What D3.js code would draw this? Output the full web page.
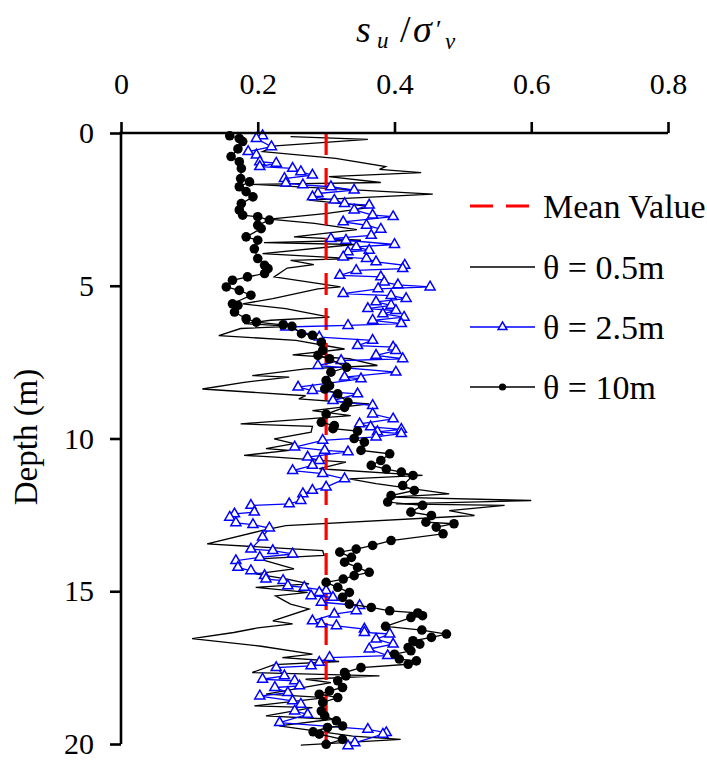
<!DOCTYPE html>
<html>
<head>
<meta charset="utf-8">
<script src="https://cdn.jsdelivr.net/npm/d3@7"></script>
<style>
	body { margin: 0; background: #fff; }
	svg text { font-family: "Liberation Serif", "Times New Roman", serif; fill: #000; }
</style>
</head>
<body>
<svg id="chart" width="707" height="764"></svg>
<script>
// theta = 0.5m (thin black line)
var depth05 = [0.12, 0.21, 0.42, 0.61, 0.83, 1.10, 1.19, 1.30, 1.43, 1.62, 1.68, 2.00, 2.20, 2.42, 2.63, 2.82, 2.96, 3.16,
	3.40, 3.51, 3.59, 3.65, 3.95, 4.11, 4.17, 4.31, 4.42, 4.71, 4.93, 5.04, 5.10, 5.42, 5.59, 5.75, 6.03, 6.13, 6.24, 6.33, 6.40,
	6.63, 6.79, 7.07, 7.26, 7.39, 7.61, 7.72, 7.94, 7.99, 8.16, 8.38, 8.60, 8.70, 8.87, 9.09, 9.25, 9.52, 9.60,
	9.79, 10.01, 10.17, 10.33, 10.39, 10.55, 10.61, 10.77, 10.99, 11.21, 11.32, 11.48, 11.81, 11.92, 12.03, 12.14, 12.19, 12.36, 12.52, 12.85,
	13.01, 13.45, 13.67, 13.83, 13.94, 14.27, 14.43, 14.60, 14.76, 14.87, 15.04, 15.15, 15.42, 15.58, 15.97, 16.07, 16.20, 16.35,
	16.55, 16.80, 17.06, 17.17, 17.30, 17.40, 17.66, 17.77, 17.88, 17.99, 18.37, 18.48, 18.75, 18.81, 19.08, 19.19, 19.41, 19.74, 19.85, 20.04];
var su05 = [0.248, 0.361, 0.226, 0.207, 0.314, 0.387, 0.378, 0.439, 0.304, 0.380, 0.192, 0.456, 0.275, 0.370, 0.302, 0.217, 0.283, 0.345,
	0.253, 0.351, 0.209, 0.341, 0.207, 0.339, 0.248, 0.282, 0.243, 0.224, 0.290, 0.321, 0.288, 0.222, 0.178, 0.241, 0.305, 0.219, 0.180, 0.251, 0.175,
	0.143, 0.256, 0.327, 0.251, 0.334, 0.375, 0.270, 0.192, 0.246, 0.180, 0.119, 0.270, 0.260, 0.363, 0.280, 0.336, 0.175, 0.280,
	0.278, 0.224, 0.253, 0.212, 0.246, 0.180, 0.226, 0.329, 0.290, 0.441, 0.334, 0.373, 0.480, 0.395, 0.600, 0.402, 0.561, 0.480, 0.517, 0.241,
	0.207, 0.126, 0.295, 0.297, 0.202, 0.253, 0.197, 0.243, 0.275, 0.197, 0.273, 0.226, 0.248, 0.275, 0.222, 0.251, 0.200, 0.165,
	0.104, 0.205, 0.280, 0.236, 0.319, 0.224, 0.192, 0.378, 0.270, 0.307, 0.212, 0.300, 0.195, 0.280, 0.212, 0.309, 0.231, 0.339, 0.409, 0.263];

// theta = 2.5m (blue triangles)
var depth25 = [0.09, 0.18, 0.45, 0.61, 0.72, 0.94, 0.99, 1.10, 1.16, 1.27, 1.38, 1.49, 1.64, 1.70, 1.76, 1.87, 1.98, 2.09, 2.20, 2.31, 2.36, 2.52, 2.69, 2.74, 2.91, 3.02, 3.15,
	3.35, 3.46, 3.51, 3.65, 3.73, 3.84, 3.89, 4.06, 4.11, 4.22, 4.33, 4.44, 4.50, 4.66, 4.71, 4.88, 4.97, 5.04, 5.10, 5.26, 5.32, 5.42, 5.53, 5.64, 5.75, 5.81, 5.92, 6.03, 6.13, 6.24, 6.30, 6.35,
	6.68, 6.79, 6.96, 7.01, 7.12, 7.28, 7.39, 7.45, 7.61, 7.83, 7.99, 8.05, 8.32, 8.43, 8.54, 8.76, 8.92, 9.20, 9.36, 9.52, 9.62, 9.70, 9.78, 9.84, 9.95,
	10.06, 10.28, 10.39, 10.44, 10.61, 10.72, 10.88, 11.05, 11.15, 11.32, 11.59, 11.70, 11.81, 12.03, 12.14, 12.19, 12.41, 12.47, 12.58, 12.76, 12.82, 12.93,
	13.23, 13.62, 13.67, 13.78, 13.89, 14.00, 14.22, 14.33, 14.49, 14.60, 14.65, 14.82, 14.87, 14.98, 15.04, 15.15, 15.20, 15.36, 15.47, 15.64, 15.75, 15.97, 16.07, 16.13, 16.24,
	16.35, 16.40, 16.57, 16.73, 16.89, 17.11, 17.17, 17.33, 17.44, 17.50, 17.77, 17.88, 17.93, 18.10, 18.15, 18.32, 18.43, 18.59, 18.70, 18.92, 19.03, 19.30, 19.52, 19.63, 19.68, 19.96, 20.06];
var su25 = [0.207, 0.198, 0.220, 0.186, 0.198, 0.203, 0.227, 0.203, 0.251, 0.263, 0.280, 0.239, 0.241, 0.266, 0.307, 0.341, 0.288, 0.280, 0.312, 0.327, 0.363, 0.341, 0.368, 0.398, 0.325, 0.359, 0.380,
	0.366, 0.307, 0.329, 0.400, 0.344, 0.363, 0.332, 0.325, 0.359, 0.373, 0.415, 0.412, 0.344, 0.320, 0.380, 0.385, 0.405, 0.452, 0.376, 0.325, 0.395, 0.417, 0.373, 0.395, 0.361, 0.402, 0.383, 0.414, 0.368, 0.410, 0.332, 0.241,
	0.290, 0.368, 0.346, 0.398, 0.402, 0.373, 0.412, 0.322, 0.288, 0.402, 0.327, 0.351, 0.259, 0.280, 0.346, 0.310, 0.368, 0.368, 0.398, 0.349, 0.365, 0.410, 0.375, 0.410, 0.373,
	0.295, 0.254, 0.298, 0.332, 0.273, 0.290, 0.280, 0.251, 0.295, 0.327, 0.300, 0.280, 0.266, 0.263, 0.246, 0.190, 0.195, 0.166, 0.159, 0.168, 0.193, 0.217,
	0.207, 0.190, 0.222, 0.251, 0.203, 0.168, 0.171, 0.190, 0.210, 0.212, 0.237, 0.244, 0.268, 0.300, 0.290, 0.278, 0.310, 0.293, 0.349, 0.344, 0.312, 0.280, 0.293, 0.315, 0.356,
	0.356, 0.393, 0.373, 0.398, 0.363, 0.390, 0.305, 0.290, 0.278, 0.227, 0.239, 0.207, 0.254, 0.261, 0.225, 0.244, 0.203, 0.251, 0.263, 0.254, 0.273, 0.232, 0.361, 0.388, 0.383, 0.342, 0.332];

// theta = 10m (black dots)
var depth10 = [0.09, 0.18, 0.28, 0.52, 0.77, 0.94, 1.16, 1.49, 1.60, 1.76, 1.92, 2.09, 2.31, 2.52, 2.69, 2.74, 2.85, 3.02,
	3.13, 3.40, 3.51, 3.79, 4.11, 4.33, 4.44, 4.60, 4.71, 4.82, 5.04, 5.15, 5.31, 5.59, 5.64, 5.86, 6.08, 6.19, 6.28, 6.33,
	6.57, 6.62, 6.85, 7.12, 7.28, 7.39, 7.67, 7.83, 8.10, 8.27, 8.38, 8.54, 8.81, 8.98, 9.20, 9.47, 9.58, 9.68, 9.76,
	10.00, 10.12, 10.39, 10.50, 10.72, 10.88, 11.00, 11.10, 11.21, 11.54, 11.70, 11.87, 12.08, 12.19, 12.41, 12.52, 12.74, 12.79, 12.90,
	13.12, 13.34, 13.50, 13.62, 13.72, 13.89, 14.05, 14.22, 14.38, 14.49, 14.60, 14.71, 14.87, 15.04, 15.20, 15.42, 15.53, 15.64, 15.71, 15.80, 15.86, 16.15,
	16.27, 16.40, 16.51, 16.62, 16.73, 16.84, 16.95, 17.06, 17.22, 17.28, 17.39, 17.50, 17.66, 17.77, 17.93, 18.15, 18.26, 18.37, 18.48, 18.64, 18.92,
	19.08, 19.24, 19.41, 19.46, 19.60, 19.68, 19.85, 20.01];
var su10 = [0.159, 0.173, 0.178, 0.171, 0.161, 0.173, 0.176, 0.175, 0.188, 0.173, 0.183, 0.193, 0.176, 0.173, 0.178, 0.200, 0.217, 0.200,
	0.205, 0.183, 0.200, 0.195, 0.200, 0.210, 0.215, 0.210, 0.185, 0.163, 0.154, 0.173, 0.190, 0.163, 0.171, 0.166, 0.183, 0.198, 0.237, 0.250,
	0.264, 0.280, 0.293, 0.295, 0.288, 0.305, 0.330, 0.307, 0.300, 0.305, 0.298, 0.317, 0.332, 0.327, 0.300, 0.293, 0.312, 0.310, 0.346,
	0.341, 0.356, 0.351, 0.393, 0.380, 0.366, 0.388, 0.410, 0.427, 0.412, 0.429, 0.395, 0.390, 0.441, 0.424, 0.454, 0.446, 0.487, 0.461,
	0.471, 0.395, 0.368, 0.344, 0.320, 0.337, 0.327, 0.346, 0.363, 0.341, 0.325, 0.300, 0.317, 0.334, 0.324, 0.334, 0.366, 0.393, 0.434, 0.441, 0.424, 0.387,
	0.440, 0.476, 0.454, 0.427, 0.437, 0.420, 0.424, 0.400, 0.407, 0.432, 0.420, 0.351, 0.327, 0.329, 0.317, 0.324, 0.305, 0.290, 0.317, 0.295, 0.293,
	0.298, 0.315, 0.324, 0.302, 0.281, 0.290, 0.324, 0.300];

var meanValue = 0.3;
var xTicks = [0, 0.2, 0.4, 0.6, 0.8];
var xTickLabels = ["0", "0.2", "0.4", "0.6", "0.8"];
var yTicks = [0, 5, 10, 15, 20];
var legendLabels = ["Mean Value", "\u03b8 = 0.5m", "\u03b8 = 2.5m", "\u03b8 = 10m"];

function zipSeries(depths, values) {
	return depths.map(function(d, i) {
		return { "depth": d, "value": values[i] };
	});
}

function renderChart() {
	var svg = d3.select("#chart"),
		margin = { top: 133, left: 121, right: 39, bottom: 20 },
		width = +svg.attr("width"),
		height = +svg.attr("height");

	var x = d3.scaleLinear()
		.domain([0, 0.8])
		.range([margin.left, width - margin.right]);
	var y = d3.scaleLinear()
		.domain([0, 20])
		.range([margin.top, height - margin.bottom]);

	var line = d3.line()
		.x(function(d) { return x(d.value); })
		.y(function(d) { return y(d.depth); });

	var s05 = zipSeries(depth05, su05),
		s25 = zipSeries(depth25, su25),
		s10 = zipSeries(depth10, su10);

	// thin line first
	svg.append("path")
		.attr("d", line(s05))
		.attr("fill", "none")
		.attr("stroke", "#000")
		.attr("stroke-width", 1.3);

	// mean value
	svg.append("line")
		.attr("x1", x(meanValue)).attr("x2", x(meanValue))
		.attr("y1", y(0)).attr("y2", y(20))
		.attr("stroke", "#ff0000")
		.attr("stroke-width", 3.2)
		.attr("stroke-dasharray", "22,13");

	var g25 = svg.append("g");
	g25.append("path")
		.attr("d", line(s25))
		.attr("fill", "none")
		.attr("stroke", "#0000ff")
		.attr("stroke-width", 1.3);
	g25.selectAll("path.tri").data(s25)
		.enter().append("path")
		.attr("class", "tri")
		.attr("d", d3.symbol(d3.symbolTriangle).size(44))
		.attr("transform", function(d) { return "translate(" + x(d.value) + "," + y(d.depth) + ")"; })
		.attr("fill", "#fff")
		.attr("stroke", "#0000ff")
		.attr("stroke-width", 1.5);

	var g10 = svg.append("g");
	g10.append("path")
		.attr("d", line(s10))
		.attr("fill", "none")
		.attr("stroke", "#000")
		.attr("stroke-width", 1.3);
	g10.selectAll("circle").data(s10)
		.enter().append("circle")
		.attr("cx", function(d) { return x(d.value); })
		.attr("cy", function(d) { return y(d.depth); })
		.attr("r", 4.8)
		.attr("fill", "#000");

	// axes
	var xAxis = svg.append("g")
		.attr("transform", "translate(0," + margin.top + ")")
		.call(d3.axisTop(x).tickValues(xTicks).tickSize(11).tickSizeOuter(0).tickPadding(28)
			.tickFormat(function(d, i) { return xTickLabels[i]; }));
	var yAxis = svg.append("g")
		.attr("transform", "translate(" + margin.left + ",0)")
		.call(d3.axisLeft(y).tickValues(yTicks).tickSize(11).tickSizeOuter(0).tickPadding(16));

	[xAxis, yAxis].forEach(function(a) {
		a.attr("font-family", null);
		a.select(".domain").attr("stroke", "#000").attr("stroke-width", 2.6);
		a.selectAll(".tick line").attr("stroke", "#000").attr("stroke-width", 2.6);
		a.selectAll(".tick text")
			.attr("font-family", "'Liberation Serif', 'Times New Roman', serif")
			.attr("font-size", 30);
	});
	xAxis.select(".domain").attr("d", "M" + (margin.left - 1.3) + ",0H" + x(0.8));
	yAxis.select(".domain").attr("d", "M0," + (margin.top - 1.3) + "V" + y(20));

	// axis titles
	var title = svg.append("text")
		.attr("y", 42)
		.attr("font-size", 38)
		.attr("font-style", "italic");
	title.append("tspan").attr("x", 356).text("s");
	title.append("tspan").attr("x", 377).attr("y", 48).attr("font-size", 23).text("u");
	title.append("tspan").attr("x", 400).attr("y", 42).attr("font-style", "normal").text("/");
	title.append("tspan").attr("x", 413).text("\u03c3");
	title.append("tspan").attr("x", 436).attr("y", 38).attr("font-size", 26).attr("font-style", "normal").text("\u2032");
	title.append("tspan").attr("x", 445).attr("y", 49).attr("font-size", 23).text("v");

	svg.append("text")
		.attr("transform", "translate(37,437) rotate(-90)")
		.attr("text-anchor", "middle")
		.attr("font-size", 33)
		.text("Depth (m)");

	// legend
	var legend = svg.append("g");
	var rows = [206, 267, 327, 387];
	var lx1 = 470, lx2 = 535;
	legend.append("line")
		.attr("x1", lx1).attr("x2", lx2).attr("y1", rows[0]).attr("y2", rows[0])
		.attr("stroke", "#ff0000").attr("stroke-width", 3.2).attr("stroke-dasharray", "23,13");
	legend.append("line")
		.attr("x1", lx1).attr("x2", lx2).attr("y1", rows[1]).attr("y2", rows[1])
		.attr("stroke", "#000").attr("stroke-width", 1.3);
	legend.append("line")
		.attr("x1", lx1).attr("x2", lx2).attr("y1", rows[2]).attr("y2", rows[2])
		.attr("stroke", "#0000ff").attr("stroke-width", 1.3);
	legend.append("path")
		.attr("d", d3.symbol(d3.symbolTriangle).size(34))
		.attr("transform", "translate(" + (lx1 + lx2) / 2 + "," + rows[2] + ")")
		.attr("fill", "#fff").attr("stroke", "#0000ff").attr("stroke-width", 1.5);
	legend.append("line")
		.attr("x1", lx1).attr("x2", lx2).attr("y1", rows[3]).attr("y2", rows[3])
		.attr("stroke", "#000").attr("stroke-width", 1.3);
	legend.append("circle")
		.attr("cx", (lx1 + lx2) / 2).attr("cy", rows[3]).attr("r", 3.6).attr("fill", "#000");
	legend.selectAll("text").data(legendLabels)
		.enter().append("text")
		.attr("x", 543)
		.attr("y", function(d, i) { return rows[i]; })
		.attr("dy", "0.35em")
		.attr("font-size", 34)
		.text(function(d) { return d; });
}

renderChart();
</script>
</body>
</html>
